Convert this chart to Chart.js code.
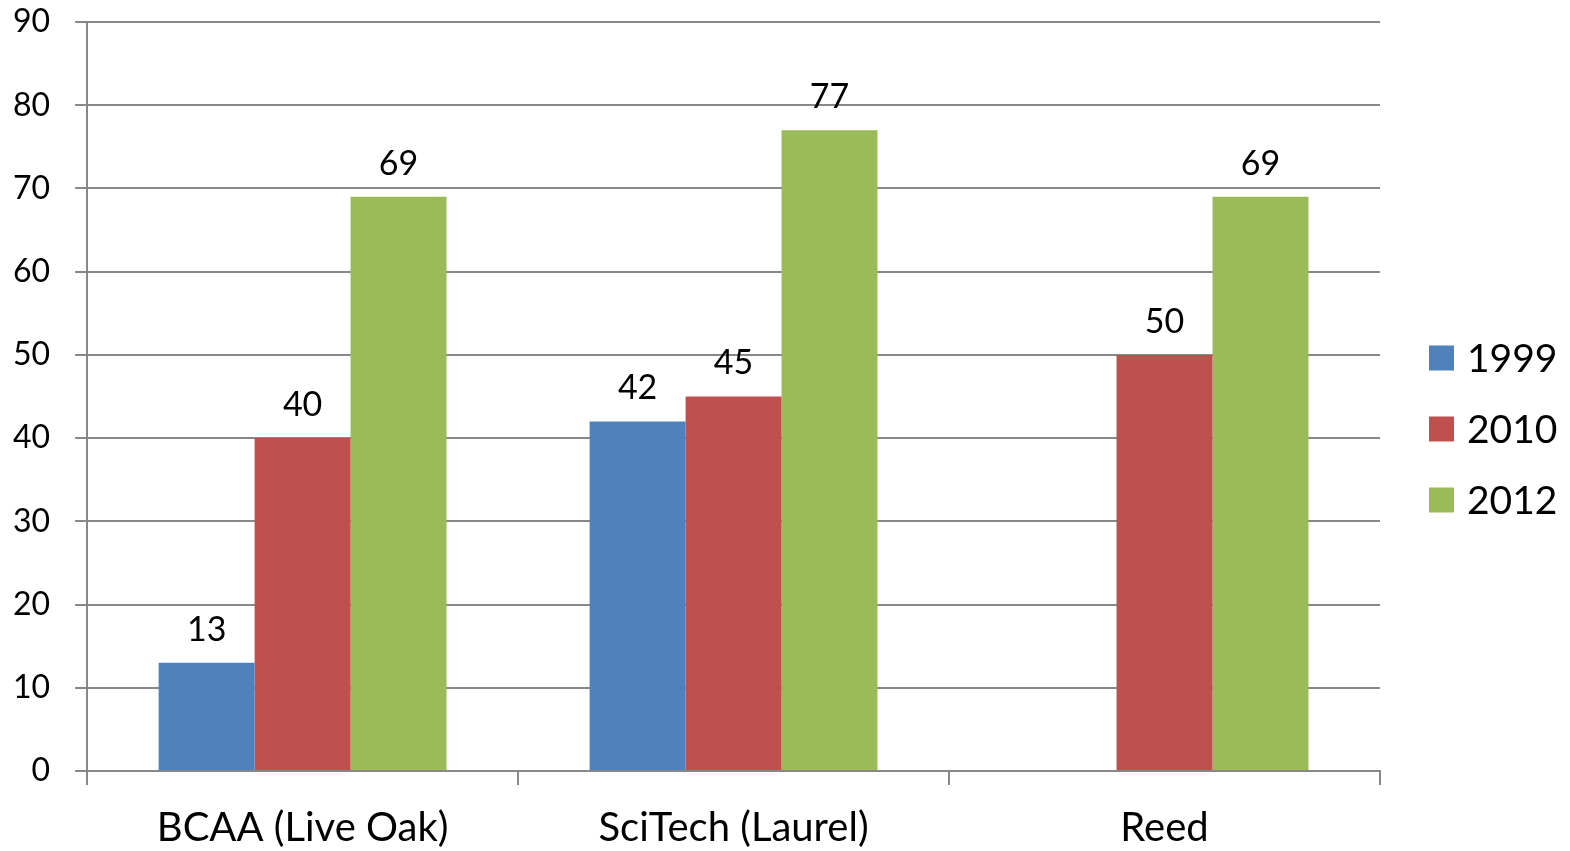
<!DOCTYPE html>
<html>
<head>
<meta charset="utf-8">
<style>
  html, body { margin: 0; padding: 0; background: #fff; }
  #wrap { width: 1570px; height: 851px; }
</style>
<script src="https://cdn.jsdelivr.net/npm/chart.js@4.4.0/dist/chart.umd.min.js"></script>
</head>
<body>
<div id="wrap"><canvas id="myChart"></canvas></div>
<script>
const categories = ['BCAA (Live Oak)', 'SciTech (Laurel)', 'Reed'];
const years = ['1999', '2010', '2012'];
const values1999 = [13, 42, null];
const values2010 = [40, 45, 50];
const values2012 = [69, 77, 69];
const yTicks = [0, 10, 20, 30, 40, 50, 60, 70, 80, 90];

const fontFamily = 'Lato, "Open Sans", sans-serif';

// draws the value above each bar
const barLabels = {
  id: 'barLabels',
  afterDatasetsDraw(chart) {
    const c = chart.ctx;
    c.save();
    c.font = '34px ' + fontFamily;
    c.fillStyle = '#000';
    c.textAlign = 'center';
    c.textBaseline = 'bottom';
    chart.data.datasets.forEach((ds, i) => {
      chart.getDatasetMeta(i).data.forEach((bar, j) => {
        if (ds.data[j] == null) return;
        c.fillText(ds.data[j], bar.x, bar.y - 16);
      });
    });
    c.restore();
  }
};

// legend drawn on the right of the plot area
const sideLegend = {
  id: 'sideLegend',
  afterDraw(chart) {
    const c = chart.ctx;
    const area = chart.chartArea;
    c.save();
    c.font = '39px ' + fontFamily;
    c.textBaseline = 'middle';
    c.textAlign = 'left';
    chart.data.datasets.forEach((ds, i) => {
      const y = area.top + 336 + i * 71;
      c.fillStyle = ds.backgroundColor;
      c.fillRect(area.right + 49, y - 12.5, 25, 25);
      c.fillStyle = '#000';
      c.fillText(ds.label, area.right + 87, y + 1);
    });
    c.restore();
  }
};

const ctx = document.getElementById('myChart');

new Chart(ctx, {
  type: 'bar',
  data: {
    labels: categories,
    datasets: [
      { label: years[0], data: values1999, backgroundColor: '#4F81BD' },
      { label: years[1], data: values2010, backgroundColor: '#C0504D' },
      { label: years[2], data: values2012, backgroundColor: '#9BBB59' }
    ]
  },
  options: {
    responsive: true,
    maintainAspectRatio: false,
    animation: false,
    layout: { padding: { top: 0, right: 190, left: -12, bottom: -20 } },
    datasets: {
      bar: { categoryPercentage: 0.668, barPercentage: 1.0 }
    },
    plugins: {
      legend: { display: false },
      tooltip: { enabled: false }
    },
    scales: {
      x: {
        grid: {
          offset: true,
          drawOnChartArea: false,
          color: '#888',
          lineWidth: 2,
          tickLength: 14
        },
        border: { color: '#888', width: 2 },
        ticks: {
          font: { family: fontFamily, size: 40 },
          color: '#000',
          padding: 19
        }
      },
      y: {
        min: 0,
        max: 90,
        afterBuildTicks(axis) {
          axis.ticks = yTicks.map(v => ({ value: v }));
        },
        afterFit(axis) {
          axis.paddingTop = 22;
        },
        grid: {
          color: '#888',
          lineWidth: 2,
          tickLength: 12
        },
        border: { color: '#888', width: 2 },
        ticks: {
          font: { family: fontFamily, size: 32 },
          color: '#000',
          padding: 25
        }
      }
    }
  },
  plugins: [barLabels, sideLegend]
});
</script>
</body>
</html>
